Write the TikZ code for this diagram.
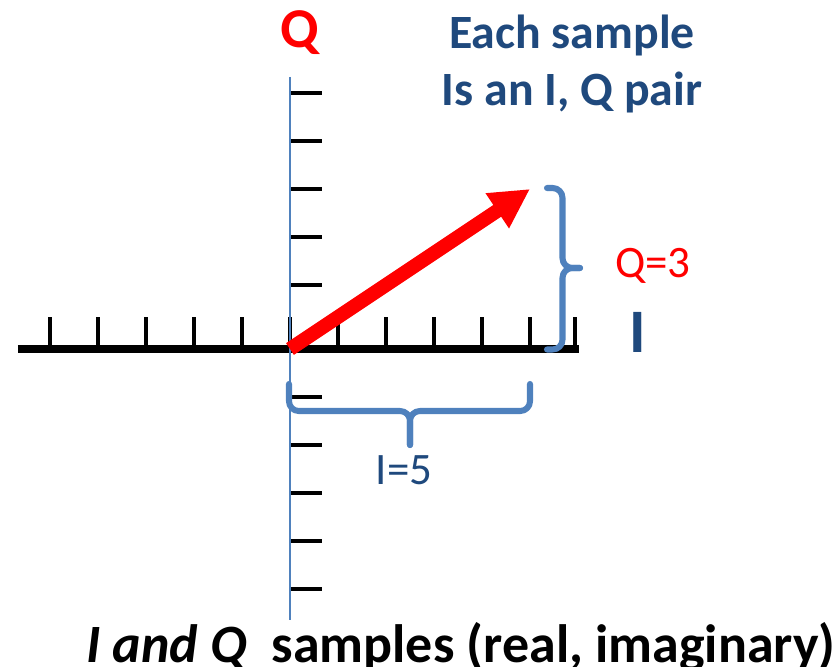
\documentclass[tikz,border=0pt]{standalone}
\usepackage{fontspec}
\setmainfont{Carlito}
\usepackage{tikz}
\usetikzlibrary{arrows.meta, positioning}
\definecolor{iqred}{RGB}{255,0,0}
\definecolor{iqnavy}{RGB}{31,73,125}
\definecolor{iqsteel}{RGB}{79,129,189}

\begin{document}
\begin{tikzpicture}[
    x=1.2cm, y=1.2cm,
    axisline/.style={draw=black, line width=5pt},
    qaxis/.style={draw=iqsteel, line width=1.4pt},
    tickmark/.style={draw=black, line width=2.8pt},
    vec/.style={draw=iqred, line width=10pt, -{Triangle[length=28pt, width=28pt]}},
    bracket/.style={draw=iqsteel, line width=4.3pt, line cap=round, line join=round, rounded corners=7pt},
    bigq/.style={font=\fontsize{40}{40}\selectfont\bfseries, text=iqred, inner sep=0pt, anchor=base},
    bigi/.style={font=\fontsize{44}{44}\selectfont\bfseries, text=iqnavy, inner sep=0pt, anchor=base},
    note/.style={font=\fontsize{34}{40.5}\selectfont\bfseries, text=iqnavy, align=center, inner sep=0pt, anchor=base},
    value/.style={font=\fontsize{32}{32}\selectfont, inner sep=0pt, anchor=base},
    caption/.style={font=\fontsize{38.4}{38.4}\selectfont\bfseries, inner sep=0pt, anchor=base west}
]
\useasboundingbox (-6.0417,-6.6042) rectangle (11.3333,7.2708);
\coordinate (origin) at (0,0);
\coordinate (ileft) at (-5.667,0);
\coordinate (iright) at (6.03,0);
\coordinate (qtop) at (0,5.667);
\coordinate (qbottom) at (0,-5.646);
\coordinate (tip) at (5,3.333);
% axes and ticks
\draw[axisline] (ileft) -- (iright);
\foreach \x in {-5,...,5,5.93}
  \draw[tickmark] (\x,0) -- (\x,0.667);
\foreach \y in {5.333,4.333,3.333,2.333,1.333,-1,-2,-3,-4,-5}
  \draw[tickmark] (0,\y) -- (0.667,\y);
\draw[qaxis] (qtop) -- (qbottom);
% the sample as a vector
\draw[vec] (origin) -- (tip);
% brace for Q
\coordinate (qbrtop) at (5.354,3.354);
\coordinate (qbrbot) at (5.354,-0.01);
\coordinate (qbrtip) at (6.042,1.6875);
\draw[bracket] (qbrtop) -- (5.677,3.354) -- (5.677,1.6875) -- (qbrtip);
\draw[bracket] (qbrbot) -- (5.677,-0.01) -- (5.677,1.6875) -- (qbrtip);
% brace for I
\coordinate (ibrleft) at (-0.021,-0.729);
\coordinate (ibrright) at (5,-0.729);
\coordinate (ibrtip) at (2.5,-2);
\draw[bracket] (ibrleft) -- (-0.021,-1.292) -- (2.5,-1.292) -- (ibrtip);
\draw[bracket] (ibrright) -- (5,-1.292) -- (2.5,-1.292) -- (ibrtip);
% labels
\node[bigq] (qlabel) at (0.208,6.271) {Q};
\node[bigi] (ilabel) at (7.25,-0.083) {I};
\node[note] (pairnote) at (5.875,5.083) {Each sample\\Is an I, Q pair};
\node[value, text=iqred] (qval) at (7.5625,1.48) {Q=3};
\node[value, text=iqnavy] (ival) at (2.375,-2.833) {I=5};
\node[caption] (caption) at (-4.25,-6.521) {\textit{I and Q}~~samples (real, imaginary)};
\end{tikzpicture}
\end{document}
